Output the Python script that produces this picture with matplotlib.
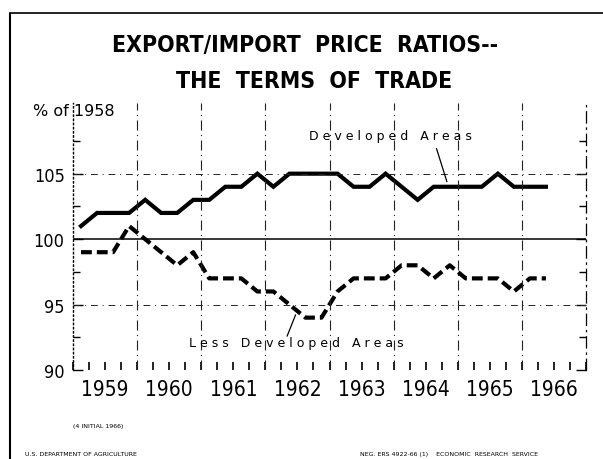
import numpy as np
import matplotlib
matplotlib.use("Agg")
import matplotlib.pyplot as plt
from matplotlib.lines import Line2D

# quarterly index values, % of 1958 (1959 Q1 .. 1966 Q2)
years = ["1959", "1960", "1961", "1962", "1963", "1964", "1965", "1966"]
developed = [101, 102, 102, 102, 103, 102, 102, 103,
             103, 104, 104, 105, 104, 105, 105, 105,
             105, 104, 104, 105, 104, 103, 104, 104,
             104, 104, 105, 104, 104, 104]
less_developed = [99, 99, 99, 101, 100, 99, 98, 99,
                  97, 97, 97, 96, 96, 95, 94, 94,
                  96, 97, 97, 97, 98, 98, 97, 98,
                  97, 97, 97, 96, 97, 97]
y_ticks = [90, 95, 100, 105]

W, H = 603, 460
cond = dict(fontfamily="DejaVu Sans", fontstretch="condensed")


def px(x, y):
    return x / W, 1 - y / H


fig = plt.figure(figsize=(W / 100, H / 100), dpi=100)
ax = fig.add_axes([73 / W, 1 - 371 / H, (586 - 73) / W, 267 / H])

qx = (np.arange(len(developed)) + 0.5) / 4
ax.plot(qx, developed, color="black", lw=3.0, solid_joinstyle="miter")
ax.plot(qx, less_developed, color="black", lw=3.0, dashes=(2.6, 1.2))

ax.set_xlim(0, len(years))
ax.set_ylim(90, 110.4)

# grid
ax.axhline(100, color="black", lw=1.1)
for yv in (95, 105):
    ax.axhline(yv, color="#222222", lw=0.7, ls=(0, (7, 5, 1, 5)))
for i in range(1, len(years)):
    ax.axvline(i, color="#222222", lw=0.8, ls=(0, (9, 4, 1, 4)))

for s in ("top", "bottom"):
    ax.spines[s].set_visible(False)
ax.spines["left"].set_linestyle((0, (1, 2)))
ax.spines["left"].set_linewidth(1.0)
ax.spines["right"].set_linestyle((0, (9, 4, 1, 4)))
ax.spines["right"].set_linewidth(0.9)

ax.set_yticks(y_ticks)
ax.set_yticklabels([str(v) for v in y_ticks], fontsize=13, **cond)
ax.set_yticks([92.5, 97.5, 102.5, 107.5], minor=True)
ax.tick_params(axis="y", direction="in", length=7, width=1, pad=6,
               right=True)
ax.tick_params(axis="y", which="minor", direction="in", length=5, width=1,
               right=True)

ax.set_xticks(np.arange(0, len(years) + 0.01, 0.25))
ax.set_xticklabels([])
ax.tick_params(axis="x", direction="in", length=6, width=1.2)
for i, yr in enumerate(years):
    ax.text(i + 0.5, -0.07, yr, transform=ax.get_xaxis_transform(),
            ha="center", va="center", fontsize=15, **cond)

# series labels
ax.text(4.95, 107.9, "D e v e l o p e d   A r e a s", ha="center",
        va="center", fontsize=9, fontfamily="DejaVu Sans")
ax.plot([5.67, 5.83], [106.9, 104.4], color="black", lw=0.9)
ax.text(3.49, 92.1, "L e s s   D e v e l o p e d   A r e a s", ha="center",
        va="center", fontsize=9, fontfamily="DejaVu Sans")
ax.plot([3.34, 3.47], [92.6, 94.2], color="black", lw=0.9)

# titles and notes
fig.text(*px(305, 45), "EXPORT/IMPORT  PRICE  RATIOS--", ha="center",
         va="center", fontweight="bold", fontsize=16.5, **cond)
fig.text(*px(314, 81), "THE  TERMS  OF  TRADE", ha="center", va="center",
         fontweight="bold", fontsize=16.5, **cond)
fig.text(*px(33, 112), "% of 1958", ha="left", va="center",
         fontfamily="DejaVu Sans", fontsize=11.5)
fig.text(*px(73, 427), "(4 INITIAL 1966)", ha="left", va="center",
         fontsize=4.5)
fig.text(*px(25, 455), "U.S. DEPARTMENT OF AGRICULTURE", ha="left",
         va="center", fontsize=4.5)
fig.text(*px(360, 455), "NEG. ERS 4922-66 (1)    ECONOMIC  RESEARCH  SERVICE",
         ha="left", va="center", fontsize=4.5)

# page frame
fig.add_artist(Line2D([10 / W, 10 / W], [1 - 15 / H, 0], color="black",
                      lw=1.5, transform=fig.transFigure))
fig.add_artist(Line2D([10 / W, 1], [1 - 14 / H, 1 - 14 / H], color="black",
                      lw=1.2, transform=fig.transFigure))

fig.savefig("out.png", dpi=100)
